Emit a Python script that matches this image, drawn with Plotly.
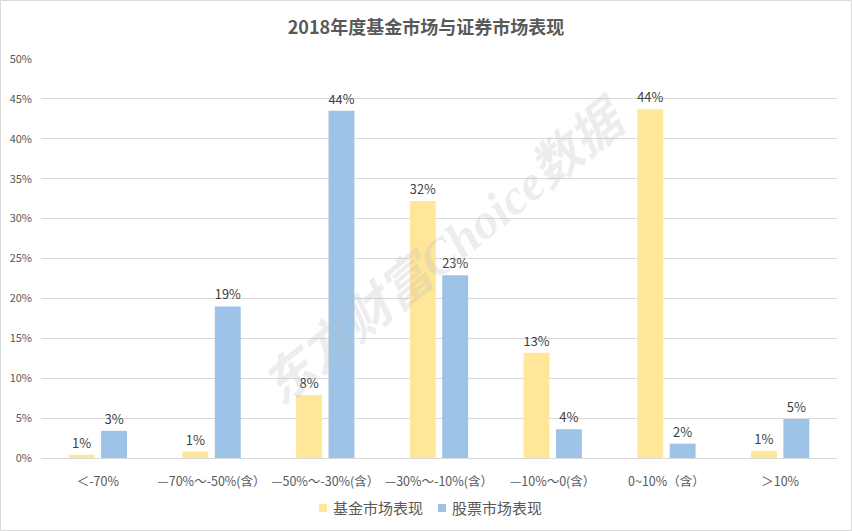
import plotly.graph_objects as go

categories = ["＜-70%", "—70%～-50%(含）", "—50%～-30%(含）", "—30%～-10%(含）",
              "—10%～0(含）", "0~10%（含）", "＞10%"]
fund_values = [0.004, 0.008, 0.079, 0.322, 0.132, 0.437, 0.009]
stock_values = [0.034, 0.190, 0.435, 0.229, 0.036, 0.018, 0.049]
fund_labels = ["1%", "1%", "8%", "32%", "13%", "44%", "1%"]
stock_labels = ["3%", "19%", "44%", "23%", "4%", "2%", "5%"]
series_names = ["基金市场表现", "股票市场表现"]
series_colors = ["#FFE699", "#9DC3E6"]
y_ticks = [0, 0.05, 0.10, 0.15, 0.20, 0.25, 0.30, 0.35, 0.40, 0.45, 0.50]

FONT = "Noto Sans CJK SC, Noto Sans, sans-serif"
W, H = 852, 531
L, R, T, B = 41, 15, 59, 73
pw, ph = W - L - R, H - T - B


def px_x(px):
    return (px - L) / pw


def px_y(py):
    return (H - B - py) / ph


fig = go.Figure()
for name, color, vals, labels in zip(series_names, series_colors,
                                     [fund_values, stock_values],
                                     [fund_labels, stock_labels]):
    fig.add_trace(go.Bar(
        name=name, x=categories, y=vals,
        marker=dict(color=color, line=dict(width=0)),
        text=labels, textposition="outside", cliponaxis=False,
        textfont=dict(color="#404040", size=13, family=FONT)))

fig.update_layout(
    width=W, height=H,
    margin=dict(l=L, r=R, t=T, b=B, autoexpand=False),
    paper_bgcolor="white", plot_bgcolor="white",
    barmode="group", bargap=0.43, bargroupgap=0.2,
    font=dict(family=FONT, color="#595959"),
    title=dict(text="<b>2018年度基金市场与证券市场表现</b>", x=0.5, xanchor="center",
               y=1 - 28 / H, yanchor="middle",
               font=dict(size=18, color="#595959", family=FONT)),
    showlegend=False,
    xaxis=dict(showgrid=False, showline=True, linecolor="#D9D9D9", linewidth=1,
               ticks="", tickfont=dict(size=12.5, color="#595959"),
               ticklabelstandoff=12, automargin=False),
    yaxis=dict(range=[0, 0.5], tickvals=y_ticks, tickformat=".0%",
               showgrid=True, gridcolor="#D9D9D9", gridwidth=1,
               zeroline=False, showline=False, ticks="",
               tickfont=dict(size=11, color="#595959"),
               ticklabelstandoff=8, automargin=False),
)

# custom legend (small squares + labels)
legend_x = [319, 438]
for lx, name, color in zip(legend_x, series_names, series_colors):
    fig.add_shape(type="rect", xref="paper", yref="paper",
                  x0=px_x(lx), x1=px_x(lx + 8), y0=px_y(512), y1=px_y(504),
                  line=dict(width=0), fillcolor=color)
    fig.add_annotation(text=name, xref="paper", yref="paper",
                       x=px_x(lx + 12), y=px_y(508), xanchor="left", yanchor="middle",
                       showarrow=False,
                       font=dict(size=15, color="#595959", family=FONT))

# watermark
fig.add_annotation(
    text="<b><i>东方财富Choice数据</i></b>", xref="paper", yref="paper",
    x=px_x(445), y=px_y(252), showarrow=False, textangle=-39,
    font=dict(size=50, color="rgba(190,190,190,0.28)",
              family="Liberation Serif, Noto Sans CJK SC, serif"))

# chart border
fig.add_shape(type="rect", xref="paper", yref="paper",
              x0=px_x(0.5), x1=px_x(W - 0.5),
              y0=px_y(H - 0.5), y1=px_y(0.5),
              line=dict(color="#D9D9D9", width=1), fillcolor="rgba(0,0,0,0)",
              layer="below")

fig.write_html("out.html")
